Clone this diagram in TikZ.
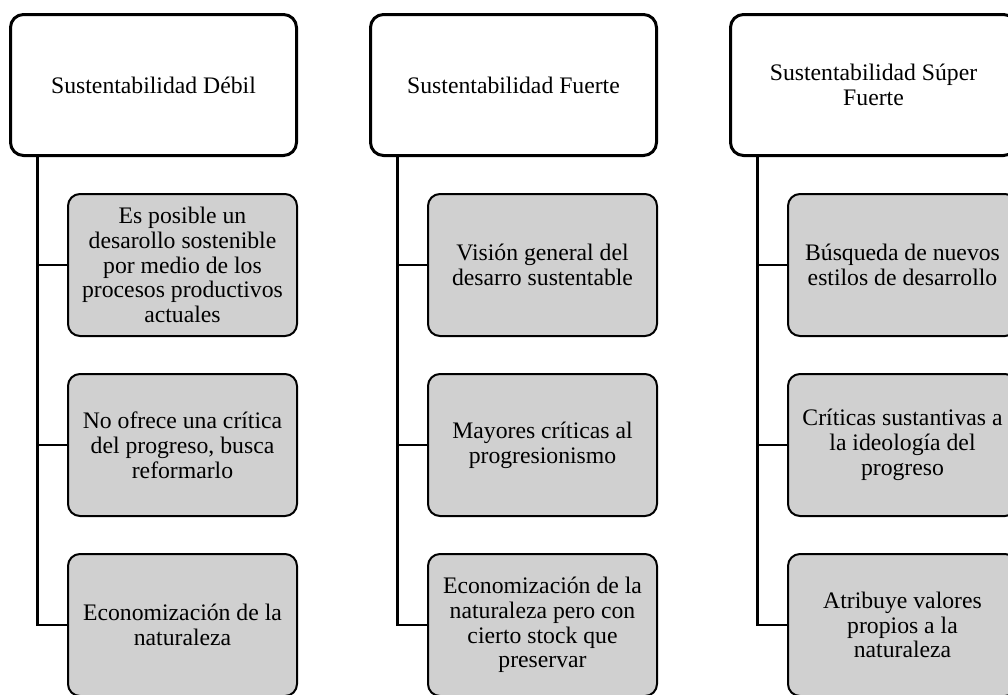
\documentclass[tikz,border=0pt]{standalone}
\usepackage{fontspec}
\setmainfont{Liberation Serif}
\definecolor{boxgray}{RGB}{208,208,208}
\begin{document}
\begin{tikzpicture}[x=1pt,y=-1pt,
  head/.style={draw=black,line width=3pt,rounded corners=13pt,fill=white,
    minimum width=286pt,minimum height=141pt,align=center,inner sep=0pt,
    font=\fontsize{23.7}{24.8}\selectfont},
  child/.style={draw=black,line width=2pt,rounded corners=12pt,fill=boxgray,
    minimum width=229pt,minimum height=142pt,align=center,inner sep=0pt,
    font=\fontsize{23.7}{24.8}\selectfont},
  conn/.style={draw=black,line width=2.5pt}]
\useasboundingbox (0,0) rectangle (1008,694);
% column 1
\node[head] (h1) at (153.5,85) {Sustentabilidad Débil};
\node[child] (c11) at (182.5,265) {Es posible un\\desarollo sostenible\\por medio de los\\procesos productivos\\actuales};
\node[child] (c12) at (182.5,445) {No ofrece una crítica\\del progreso, busca\\reformarlo};
\node[child] (c13) at (182.5,625) {Economización de la\\naturaleza};
% column 2
\node[head] (h2) at (513.5,85) {Sustentabilidad Fuerte};
\node[child] (c21) at (542.5,265) {Visión general del\\desarro sustentable};
\node[child] (c22) at (542.5,445) {Mayores críticas al\\progresionismo};
\node[child] (c23) at (542.5,625) {Economización de la\\naturaleza pero con\\cierto stock que\\preservar};
% column 3
\node[head] (h3) at (873.5,85) {Sustentabilidad Súper\\Fuerte};
\node[child] (c31) at (902.5,265) {Búsqueda de nuevos\\estilos de desarrollo};
\node[child] (c32) at (902.5,445) {Críticas sustantivas a\\la ideología del\\progreso};
\node[child] (c33) at (902.5,625) {Atribuye valores\\propios a la\\naturaleza};
% connectors
\foreach \c in {1,2,3}{
  \foreach \k in {1,2,3}{
    \draw[conn] ([xshift=28.5pt,yshift=1.5pt]h\c.south west) |- (c\c\k.west);
  }
}
\end{tikzpicture}
\end{document}
